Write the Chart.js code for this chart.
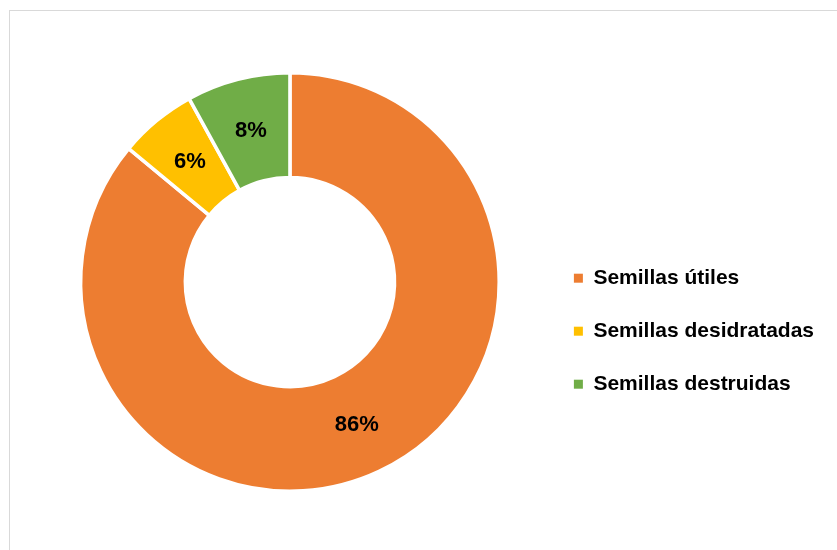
<!DOCTYPE html>
<html>
<head>
<meta charset="utf-8">
<script src="https://cdn.jsdelivr.net/npm/chart.js@4.4.0/dist/chart.umd.min.js"></script>
<style>
    html, body { margin: 0; padding: 0; background: #fff; overflow: hidden; }
    .frame {
        position: absolute;
        left: 9px;
        top: 10px;
        width: 1100px;
        height: 600px;
        border-left: 1px solid #d9d9d9;
        border-top: 1px solid #d9d9d9;
    }
    .chart-box { position: absolute; left: 0; top: 0; width: 1000px; height: 539px; }
</style>
</head>
<body>
<div class="frame">
    <div class="chart-box"><canvas id="seedChart"></canvas></div>
</div>
<script>
// Datos del gráfico
const categories = ['Semillas útiles', 'Semillas desidratadas', 'Semillas destruidas'];
const percentValues = [86, 6, 8];
const sliceColors = ['#ED7D31', '#FFC000', '#70AD47'];

const FONT_FAMILY = '"Liberation Sans", Arial, sans-serif';

// draws the % label in the middle of each ring segment
const sliceLabels = {
    id: 'sliceLabels',
    afterDatasetsDraw(chart) {
        const ctx = chart.ctx;
        const meta = chart.getDatasetMeta(0);
        ctx.save();
        ctx.font = 'bold 22px ' + FONT_FAMILY;
        ctx.fillStyle = '#000';
        ctx.textAlign = 'center';
        ctx.textBaseline = 'middle';
        meta.data.forEach(function(arc, i) {
            const p = arc.getCenterPoint();
            ctx.fillText(percentValues[i] + '%', p.x, p.y + 1);
        });
        ctx.restore();
    }
};

const seedConfig = {
    type: 'doughnut',
    data: {
        labels: categories,
        datasets: [{
            data: percentValues,
            backgroundColor: sliceColors,
            borderColor: '#ffffff',
            borderWidth: 3.5,
            hoverOffset: 0
        }]
    },
    options: {
        responsive: true,
        maintainAspectRatio: false,
        animation: false,
        cutout: '50%',
        layout: {
            padding: { left: 28, right: 186, top: 60, bottom: 57 }
        },
        plugins: {
            tooltip: { enabled: false },
            legend: {
                position: 'right',
                align: 'center',
                title: {
                    display: true,
                    text: '',
                    padding: { top: 84, bottom: 0 }
                },
                labels: {
                    boxWidth: 9,
                    boxHeight: 9,
                    padding: 32,
                    color: '#000',
                    font: { family: FONT_FAMILY, size: 21, weight: 'bold' },
                    // plain squares, without the white slice border
                    generateLabels: function(chart) {
                        const items = Chart.overrides.doughnut.plugins.legend.labels.generateLabels(chart);
                        items.forEach(function(item) {
                            item.lineWidth = 0;
                            item.strokeStyle = item.fillStyle;
                        });
                        return items;
                    }
                }
            }
        }
    },
    plugins: [sliceLabels]
};

new Chart(document.getElementById('seedChart').getContext('2d'), seedConfig);
</script>
</body>
</html>
